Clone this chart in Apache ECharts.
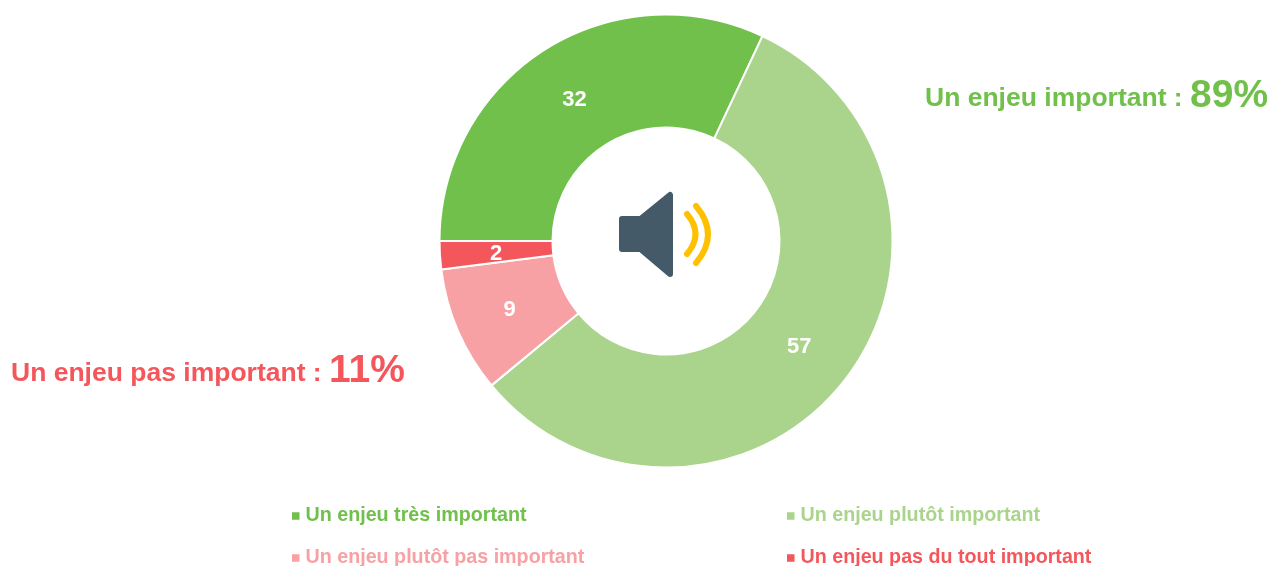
<!DOCTYPE html>
<html>
<head>
<meta charset="utf-8">
<style>html,body{margin:0;padding:0;background:#fff;overflow:hidden}#c{width:1271px;height:566px}</style>
<script src="https://cdn.jsdelivr.net/npm/echarts@6/dist/echarts.min.js"></script>
</head>
<body>
<div id="c"></div>
<script>
const categories = ['Un enjeu très important','Un enjeu plutôt important','Un enjeu plutôt pas important','Un enjeu pas du tout important'];
const values = [32,57,9,2];
const colors = ['#70c04b','#aad48c','#f8a1a5','#f4575b'];
const summaryLabels = ['Un enjeu important : ','Un enjeu pas important : '];
const summaryValues = ['89%','11%'];
const legendPos = [[290,506],[785,506],[290,548],[785,548]];
const FONT = '"Liberation Sans", Arial, sans-serif';

const chart = echarts.init(document.getElementById('c'), null, {renderer:'canvas'});
const rich = (c)=>({a:{fontFamily:FONT,fontWeight:'bold',fontSize:26.5,fill:c},b:{fontFamily:FONT,fontWeight:'bold',fontSize:39,fill:c,padding:[0,0,4,0]}});
const total = values.reduce((a,b)=>a+b,0);
let running = 0;
const pieData = categories.map((name,i)=>{
  const mid = (180 - (running + values[i]/2)/total*360) * Math.PI/180;
  running += values[i];
  return {name,value:values[i],itemStyle:{color:colors[i]},
    label:{offset:[-Math.cos(mid)*3.5-0.7, Math.sin(mid)*3.5+2]}};
});
chart.setOption({
  animation:false,
  backgroundColor:'#fff',
  legend: categories.map((name,i)=>({
    left:legendPos[i][0], top:legendPos[i][1], orient:'horizontal',
    itemWidth:9.5, itemHeight:9.5, itemGap:0, padding:0,
    icon:'rect', selectedMode:false,
    data:[{name, itemStyle:{color:colors[i]}, textStyle:{color:colors[i]}}],
    textStyle:{fontFamily:FONT,fontWeight:'bold',fontSize:19.7,color:colors[i]}
  })),
  series:[{
    type:'pie',
    center:[666,241],
    radius:[113.5,226.5],
    startAngle:180,
    clockwise:true,
    avoidLabelOverlap:false,
    itemStyle:{borderColor:'#fff',borderWidth:2},
    label:{show:true,position:'inside',formatter:'{c}',color:'#fff',fontFamily:FONT,fontWeight:'bold',fontSize:22},
    labelLine:{show:false},
    emphasis:{disabled:true},
    data:pieData
  }],
  graphic:[
    {type:'text',left:925,top:77,style:{text:'{a|'+summaryLabels[0]+'}{b|'+summaryValues[0]+'}',rich:rich(colors[0])}},
    {type:'text',left:11,top:352,style:{text:'{a|'+summaryLabels[1]+'}{b|'+summaryValues[1]+'}',rich:rich(colors[3])}},
    {type:'polygon',shape:{points:[[622,219],[640.5,219],[670,195],[670,274],[640.5,249],[622,249]]},
      style:{fill:'#455a68',stroke:'#455a68',lineWidth:6,lineJoin:'round'}},
    {type:'bezierCurve',shape:{x1:687,y1:214,x2:687,y2:254,cpx1:704,cpy1:234},style:{fill:null,stroke:'#ffc000',lineWidth:6,lineCap:'round'}},
    {type:'bezierCurve',shape:{x1:696,y1:206,x2:696,y2:263,cpx1:720,cpy1:234.5},style:{fill:null,stroke:'#ffc000',lineWidth:6,lineCap:'round'}}
  ]
});
</script>
</body>
</html>
